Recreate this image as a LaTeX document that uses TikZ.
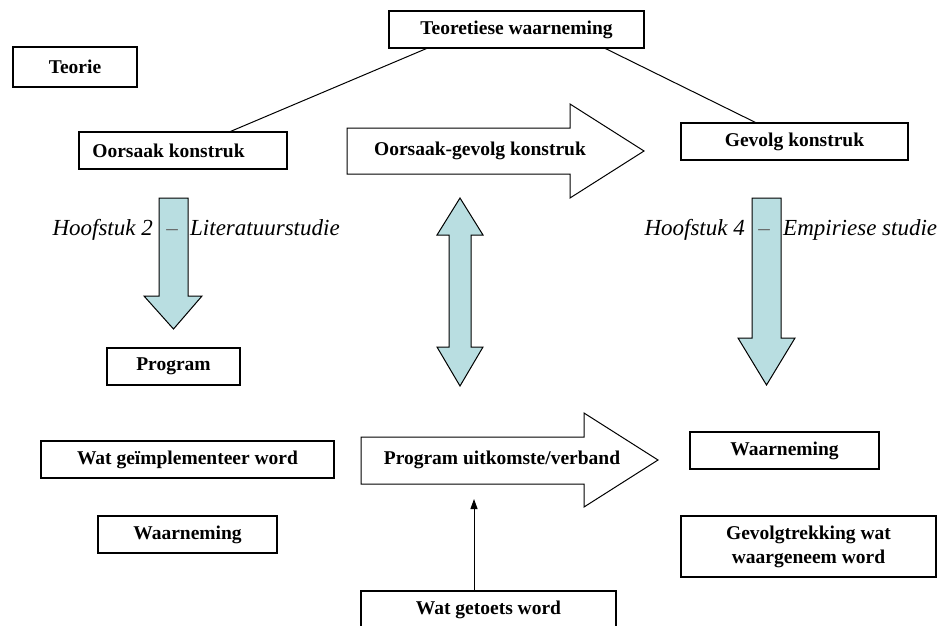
\documentclass[tikz,border=0pt]{standalone}
\usepackage{fontspec}
\setmainfont{Liberation Serif}
\usetikzlibrary{arrows.meta,calc}
\definecolor{arrowblue}{RGB}{185,222,225}
\begin{document}
\begin{tikzpicture}[x=1pt,y=-1pt,
  box/.style={draw=black,line width=1.1pt,fill=white,inner sep=0pt,minimum height=37pt,font=\bfseries\fontsize{19.5}{24}\selectfont,align=center},
  bluearrow/.style={draw=black,line width=1pt,fill=arrowblue,line join=miter},
  whitearrow/.style={draw=black,line width=1pt,fill=white,line join=miter},
  lbl/.style={font=\itshape\fontsize{23}{28}\selectfont,inner sep=0pt},
  btxt/.style={font=\bfseries\fontsize{19.5}{24}\selectfont,inner sep=0pt},
  conn/.style={draw=black,line width=1pt}]
\clip (0,0) rectangle (941,625);
\fill[white] (0,0) rectangle (941,625);

% block arrows
\draw[whitearrow] (347,128) -- (570,128) -- (570,104) -- (644,151) -- (570,198) -- (570,174) -- (347,174) -- cycle;
\draw[whitearrow] (361,437) -- (584,437) -- (584,413) -- (658,460) -- (584,507) -- (584,484) -- (361,484) -- cycle;
\draw[bluearrow] (460,198) -- (483,235) -- (471,235) -- (471,347) -- (483,347) -- (460,386) -- (437,347) -- (449,347) -- (449,235) -- (437,235) -- cycle;
\draw[bluearrow] (159,198) -- (188,198) -- (188,296) -- (202,296) -- (173.5,329) -- (144,296) -- (159,296) -- cycle;
\draw[bluearrow] (752,198) -- (781,198) -- (781,338) -- (795,338) -- (766.5,385) -- (738,338) -- (752,338) -- cycle;

% boxes
\node[box,minimum width=124pt,minimum height=40pt] (teorie) at (75,67) {Teorie};
\node[box,minimum width=255pt] (teo) at (516.5,29.5) {Teoretiese waarneming};
\node[box,minimum width=208pt] (ok) at (183,150.5) {Oorsaak konstruk\hspace*{29pt}};
\node[box,minimum width=227pt] (gk) at (794.5,141.5) {Gevolg konstruk};
\node[box,minimum width=133pt] (prog) at (173.5,366.5) {Program};
\node[box,minimum width=293pt] (wgw) at (187.5,459.5) {Wat geïmplementeer word};
\node[box,minimum width=179pt] (waarL) at (187.5,534.5) {Waarneming};
\node[box,minimum width=189pt] (waarR) at (784.5,450.5) {Waarneming};
\node[box,minimum width=255pt,minimum height=61pt] (gww) at (808.5,546.5) {Gevolgtrekking wat\\waargeneem word};
\node[box,minimum width=255pt] (wtw) at (488.5,609.5) {Wat getoets word};

% texts on arrows
\node[btxt] (ogk) at (480,151) {Oorsaak-gevolg konstruk};
\node[btxt] (puv) at (502,460) {Program uitkomste/verband};

% italic labels
\node[lbl,anchor=base east] (h2) at (153,235) {Hoofstuk 2};
\node[lbl,anchor=base,text=black!60] (d2) at (172,235) {–};
\node[lbl,anchor=base west] (lit) at (190,235) {Literatuurstudie};
\node[lbl,anchor=base east] (h4) at (745,235) {Hoofstuk 4};
\node[lbl,anchor=base,text=black!60] (d4) at (764,235) {–};
\node[lbl,anchor=base west] (emp) at (783,235) {Empiriese studie};

% connectors
\draw[conn] ([xshift=38pt]teo.south west) -- ([xshift=152pt]ok.north west);
\draw[conn] ([xshift=217pt]teo.south west) -- ([xshift=75pt]gk.north west);
\coordinate (tip) at (474,499);
\draw[conn,-{Triangle[length=10pt,width=7pt]}] ([xshift=-14.5pt]wtw.north) -- (tip);
\end{tikzpicture}
\end{document}
